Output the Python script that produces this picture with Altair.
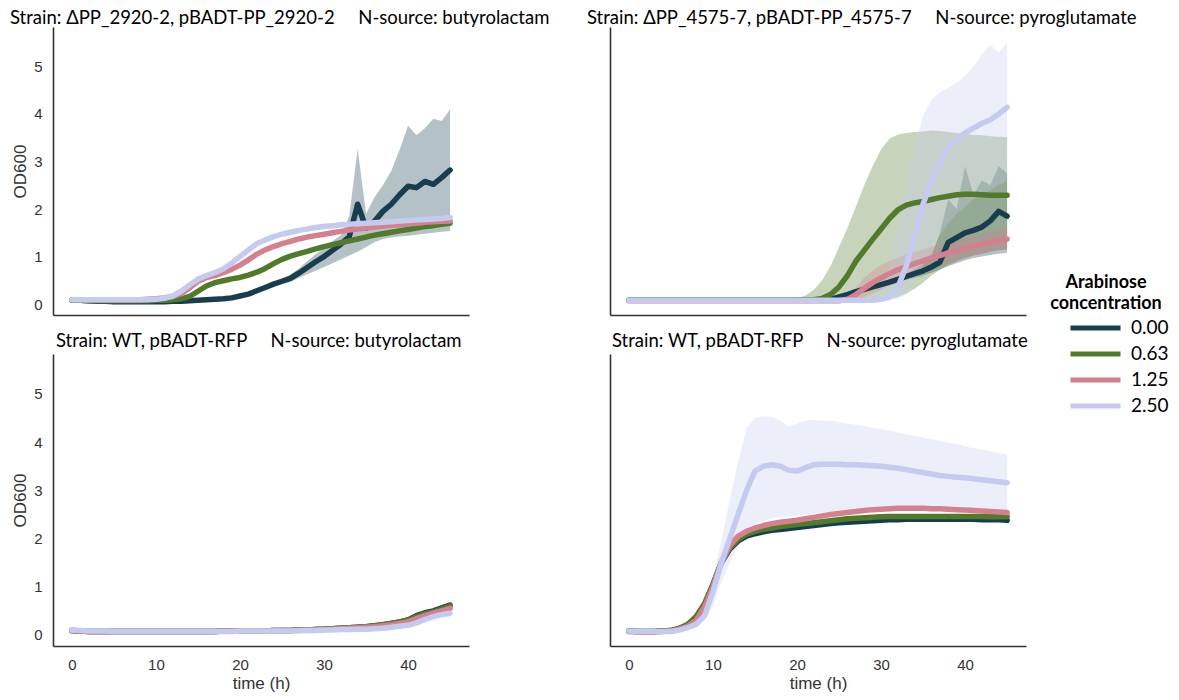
import altair as alt
import pandas as pd

# ---------------- data ----------------
TIME = [0, 1, 2, 3, 4, 5, 6, 7, 8, 9, 10, 11, 12, 13, 14, 15, 16, 17, 18, 19,
        20, 21, 22, 23, 24, 25, 26, 27, 28, 29, 30, 31, 32, 33, 34, 35, 36, 37, 38, 39,
        40, 41, 42, 43, 44, 45]
CONCS = ["0.00", "0.63", "1.25", "2.50"]
COLORS = ["#173d4f", "#517a2b", "#d4808f", "#c4caf0"]

TITLE_TL = ["Strain: \u0394PP_2920-2, pBADT-PP_2920-2", "N-source: butyrolactam"]
TITLE_TR = ["Strain: \u0394PP_4575-7, pBADT-PP_4575-7", "N-source: pyroglutamate"]
TITLE_BL = ["Strain: WT, pBADT-RFP", "N-source: butyrolactam"]
TITLE_BR = ["Strain: WT, pBADT-RFP", "N-source: pyroglutamate"]

Y_TICKS = [0, 1, 2, 3, 4, 5]
X_TICKS = [0, 10, 20, 30, 40]

# top-left: dPP_2920-2, butyrolactam
TL_000 = [0.09, 0.08, 0.07, 0.06, 0.06, 0.05, 0.05, 0.05, 0.05, 0.05,
          0.05, 0.05, 0.06, 0.06, 0.07, 0.08, 0.09, 0.10, 0.11, 0.13,
          0.17, 0.21, 0.28, 0.35, 0.42, 0.48, 0.54, 0.65, 0.77, 0.89,
          1.00, 1.13, 1.26, 1.42, 2.10, 1.60, 1.74, 1.95, 2.10, 2.30,
          2.48, 2.45, 2.58, 2.52, 2.66, 2.82]
TL_000_LO = [0.08, 0.07, 0.06, 0.05, 0.05, 0.05, 0.05, 0.05, 0.05, 0.05,
             0.05, 0.05, 0.05, 0.05, 0.06, 0.07, 0.08, 0.09, 0.10, 0.12,
             0.15, 0.19, 0.25, 0.31, 0.37, 0.42, 0.47, 0.55, 0.63, 0.70,
             0.78, 0.86, 0.94, 1.02, 1.10, 1.20, 1.30, 1.37, 1.40, 1.42,
             1.44, 1.46, 1.48, 1.50, 1.52, 1.54]
TL_000_HI = [0.10, 0.09, 0.08, 0.07, 0.07, 0.06, 0.06, 0.06, 0.06, 0.06,
             0.06, 0.06, 0.07, 0.07, 0.08, 0.09, 0.10, 0.11, 0.12, 0.14,
             0.19, 0.23, 0.31, 0.39, 0.47, 0.54, 0.62, 0.75, 0.90, 1.05,
             1.18, 1.32, 1.45, 1.85, 3.27, 1.90, 2.25, 2.50, 2.80, 3.25,
             3.75, 3.55, 3.70, 3.90, 3.85, 4.10]
TL_063 = [0.08, 0.08, 0.07, 0.07, 0.07, 0.07, 0.07, 0.07, 0.07, 0.07,
          0.08, 0.08, 0.09, 0.11, 0.16, 0.27, 0.38, 0.45, 0.49, 0.53,
          0.56, 0.61, 0.67, 0.75, 0.85, 0.94, 1.01, 1.06, 1.11, 1.16,
          1.21, 1.25, 1.29, 1.33, 1.37, 1.41, 1.45, 1.48, 1.51, 1.54,
          1.57, 1.60, 1.63, 1.65, 1.68, 1.70]
TL_125 = [0.09, 0.09, 0.09, 0.09, 0.09, 0.09, 0.09, 0.09, 0.09, 0.10,
          0.11, 0.13, 0.16, 0.22, 0.34, 0.48, 0.56, 0.60, 0.66, 0.73,
          0.82, 0.93, 1.05, 1.14, 1.21, 1.27, 1.32, 1.37, 1.41, 1.44,
          1.47, 1.50, 1.53, 1.56, 1.58, 1.60, 1.62, 1.64, 1.66, 1.67,
          1.69, 1.70, 1.72, 1.73, 1.74, 1.75]
TL_250 = [0.09, 0.09, 0.09, 0.09, 0.09, 0.09, 0.09, 0.09, 0.09, 0.09,
          0.10, 0.12, 0.17, 0.27, 0.40, 0.52, 0.60, 0.66, 0.74, 0.86,
          1.00, 1.14, 1.27, 1.35, 1.42, 1.47, 1.51, 1.55, 1.58, 1.61,
          1.63, 1.65, 1.67, 1.68, 1.69, 1.70, 1.71, 1.72, 1.73, 1.75,
          1.76, 1.77, 1.78, 1.79, 1.80, 1.82]

# top-right: dPP_4575-7, pyroglutamate
TR_000 = [0.08, 0.08, 0.08, 0.08, 0.08, 0.08, 0.08, 0.08, 0.08, 0.08,
          0.08, 0.08, 0.08, 0.08, 0.08, 0.08, 0.08, 0.08, 0.08, 0.08,
          0.08, 0.08, 0.08, 0.09, 0.10, 0.15, 0.20, 0.26, 0.31, 0.36,
          0.41, 0.46, 0.52, 0.58, 0.64, 0.70, 0.78, 0.88, 1.30, 1.40,
          1.50, 1.55, 1.62, 1.75, 1.95, 1.85]
TR_000_LO = [0.07, 0.07, 0.07, 0.07, 0.07, 0.07, 0.07, 0.07, 0.07, 0.07,
             0.07, 0.07, 0.07, 0.07, 0.07, 0.07, 0.07, 0.07, 0.07, 0.07,
             0.07, 0.07, 0.07, 0.08, 0.09, 0.13, 0.17, 0.22, 0.26, 0.31,
             0.36, 0.41, 0.46, 0.51, 0.55, 0.60, 0.66, 0.72, 0.80, 0.86,
             0.92, 0.97, 1.00, 1.03, 1.06, 1.08]
TR_000_HI = [0.09, 0.09, 0.09, 0.09, 0.09, 0.09, 0.09, 0.09, 0.09, 0.09,
             0.09, 0.09, 0.09, 0.09, 0.09, 0.09, 0.09, 0.09, 0.09, 0.09,
             0.09, 0.09, 0.09, 0.10, 0.11, 0.17, 0.23, 0.30, 0.36, 0.41,
             0.46, 0.52, 0.58, 0.65, 0.72, 0.85, 1.00, 1.50, 2.20, 2.00,
             2.90, 2.30, 2.60, 2.50, 2.90, 2.75]
TR_063 = [0.08, 0.08, 0.08, 0.08, 0.08, 0.08, 0.08, 0.08, 0.08, 0.08,
          0.08, 0.08, 0.08, 0.08, 0.08, 0.08, 0.08, 0.08, 0.08, 0.08,
          0.08, 0.08, 0.09, 0.12, 0.20, 0.36, 0.60, 0.90, 1.13, 1.36,
          1.58, 1.80, 1.98, 2.08, 2.13, 2.16, 2.20, 2.24, 2.27, 2.30,
          2.31, 2.31, 2.30, 2.29, 2.29, 2.29]
TR_063_LO = [0.07, 0.07, 0.07, 0.07, 0.07, 0.07, 0.07, 0.07, 0.07, 0.07,
             0.07, 0.07, 0.07, 0.07, 0.07, 0.07, 0.07, 0.07, 0.07, 0.07,
             0.07, 0.07, 0.07, 0.07, 0.07, 0.07, 0.07, 0.07, 0.07, 0.08,
             0.09, 0.11, 0.15, 0.22, 0.32, 0.45, 0.60, 0.72, 0.82, 0.90,
             0.97, 1.02, 1.06, 1.10, 1.13, 1.15]
TR_063_HI = [0.10, 0.10, 0.10, 0.10, 0.10, 0.10, 0.10, 0.10, 0.10, 0.10,
             0.10, 0.10, 0.10, 0.10, 0.10, 0.10, 0.10, 0.10, 0.10, 0.10,
             0.12, 0.18, 0.30, 0.50, 0.80, 1.20, 1.60, 2.05, 2.50, 2.90,
             3.25, 3.48, 3.57, 3.60, 3.62, 3.63, 3.65, 3.64, 3.62, 3.60,
             3.58, 3.56, 3.55, 3.53, 3.52, 3.51]
TR_125 = [0.07, 0.07, 0.07, 0.07, 0.07, 0.07, 0.07, 0.07, 0.07, 0.07,
          0.07, 0.07, 0.07, 0.07, 0.07, 0.07, 0.07, 0.07, 0.07, 0.07,
          0.07, 0.07, 0.07, 0.07, 0.07, 0.07, 0.10, 0.20, 0.33, 0.45,
          0.55, 0.64, 0.72, 0.79, 0.85, 0.91, 0.97, 1.02, 1.08, 1.13,
          1.18, 1.22, 1.26, 1.30, 1.34, 1.37]
TR_125_LO = [0.06, 0.06, 0.06, 0.06, 0.06, 0.06, 0.06, 0.06, 0.06, 0.06,
             0.06, 0.06, 0.06, 0.06, 0.06, 0.06, 0.06, 0.06, 0.06, 0.06,
             0.06, 0.06, 0.06, 0.06, 0.06, 0.06, 0.06, 0.06, 0.15, 0.22,
             0.30, 0.38, 0.45, 0.52, 0.60, 0.67, 0.74, 0.80, 0.86, 0.92,
             0.97, 1.02, 1.06, 1.10, 1.13, 1.16]
TR_125_HI = [0.08, 0.08, 0.08, 0.08, 0.08, 0.08, 0.08, 0.08, 0.08, 0.08,
             0.08, 0.08, 0.08, 0.08, 0.08, 0.08, 0.08, 0.08, 0.08, 0.08,
             0.08, 0.08, 0.08, 0.08, 0.08, 0.08, 0.15, 0.35, 0.55, 0.70,
             0.82, 0.90, 0.98, 1.05, 1.10, 1.15, 1.20, 1.25, 1.30, 1.35,
             1.40, 1.44, 1.48, 1.52, 1.56, 1.60]
TR_250 = [0.08, 0.08, 0.08, 0.08, 0.08, 0.08, 0.08, 0.08, 0.08, 0.08,
          0.08, 0.08, 0.08, 0.08, 0.08, 0.08, 0.08, 0.08, 0.08, 0.08,
          0.08, 0.08, 0.08, 0.08, 0.08, 0.08, 0.08, 0.08, 0.08, 0.08,
          0.10, 0.15, 0.35, 0.80, 1.45, 2.10, 2.60, 2.95, 3.30, 3.48,
          3.60, 3.70, 3.80, 3.88, 4.00, 4.14]
TR_250_LO = [0.07, 0.07, 0.07, 0.07, 0.07, 0.07, 0.07, 0.07, 0.07, 0.07,
             0.07, 0.07, 0.07, 0.07, 0.07, 0.07, 0.07, 0.07, 0.07, 0.07,
             0.07, 0.07, 0.07, 0.07, 0.07, 0.07, 0.07, 0.07, 0.07, 0.07,
             0.07, 0.07, 0.10, 0.20, 0.45, 0.80, 1.15, 1.45, 1.70, 1.90,
             2.05, 2.20, 2.30, 2.40, 2.50, 2.60]
TR_250_HI = [0.10, 0.10, 0.10, 0.10, 0.10, 0.10, 0.10, 0.10, 0.10, 0.10,
             0.10, 0.10, 0.10, 0.10, 0.10, 0.10, 0.10, 0.10, 0.10, 0.10,
             0.10, 0.10, 0.10, 0.10, 0.10, 0.10, 0.10, 0.10, 0.10, 0.15,
             0.30, 0.80, 1.60, 2.50, 3.30, 3.95, 4.30, 4.45, 4.55, 4.65,
             4.80, 5.00, 5.25, 5.45, 5.30, 5.50]

# bottom-left: WT, butyrolactam
BL_000 = [0.09, 0.08, 0.07, 0.07, 0.07, 0.07, 0.07, 0.07, 0.07, 0.07,
          0.07, 0.07, 0.07, 0.07, 0.07, 0.07, 0.07, 0.07, 0.08, 0.08,
          0.08, 0.08, 0.08, 0.08, 0.09, 0.09, 0.09, 0.10, 0.10, 0.11,
          0.12, 0.13, 0.14, 0.15, 0.16, 0.17, 0.19, 0.21, 0.24, 0.27,
          0.31, 0.40, 0.46, 0.50, 0.56, 0.62]
BL_063 = [0.09, 0.08, 0.07, 0.07, 0.07, 0.07, 0.07, 0.07, 0.07, 0.07,
          0.07, 0.07, 0.07, 0.07, 0.07, 0.07, 0.07, 0.07, 0.08, 0.08,
          0.08, 0.08, 0.08, 0.08, 0.09, 0.09, 0.09, 0.10, 0.10, 0.11,
          0.12, 0.13, 0.14, 0.15, 0.16, 0.17, 0.19, 0.21, 0.24, 0.27,
          0.31, 0.38, 0.44, 0.48, 0.54, 0.60]
BL_125 = [0.09, 0.08, 0.07, 0.07, 0.07, 0.07, 0.07, 0.07, 0.07, 0.07,
          0.07, 0.07, 0.07, 0.07, 0.07, 0.07, 0.07, 0.07, 0.08, 0.08,
          0.08, 0.08, 0.08, 0.08, 0.08, 0.09, 0.09, 0.09, 0.10, 0.10,
          0.11, 0.12, 0.13, 0.14, 0.15, 0.16, 0.17, 0.19, 0.21, 0.24,
          0.27, 0.34, 0.40, 0.45, 0.50, 0.55]
BL_250 = [0.10, 0.09, 0.08, 0.08, 0.08, 0.07, 0.07, 0.07, 0.07, 0.07,
          0.07, 0.07, 0.07, 0.07, 0.07, 0.07, 0.07, 0.07, 0.07, 0.07,
          0.08, 0.08, 0.08, 0.08, 0.08, 0.08, 0.08, 0.09, 0.09, 0.09,
          0.10, 0.10, 0.11, 0.11, 0.12, 0.12, 0.13, 0.14, 0.16, 0.18,
          0.20, 0.25, 0.32, 0.38, 0.42, 0.45]

# bottom-right: WT, pyroglutamate
BR_000 = [0.08, 0.07, 0.07, 0.07, 0.08, 0.09, 0.13, 0.20, 0.35, 0.62,
          1.04, 1.50, 1.78, 1.95, 2.05, 2.10, 2.14, 2.17, 2.19, 2.21,
          2.23, 2.25, 2.27, 2.29, 2.31, 2.33, 2.34, 2.35, 2.36, 2.37,
          2.38, 2.39, 2.39, 2.40, 2.40, 2.40, 2.40, 2.40, 2.40, 2.40,
          2.40, 2.40, 2.39, 2.39, 2.39, 2.38]
BR_063 = [0.08, 0.07, 0.07, 0.07, 0.08, 0.09, 0.14, 0.22, 0.38, 0.65,
          1.05, 1.50, 1.80, 1.98, 2.09, 2.15, 2.19, 2.22, 2.25, 2.27,
          2.29, 2.31, 2.33, 2.35, 2.37, 2.39, 2.41, 2.42, 2.43, 2.44,
          2.45, 2.46, 2.46, 2.46, 2.46, 2.46, 2.46, 2.46, 2.46, 2.46,
          2.46, 2.46, 2.46, 2.45, 2.45, 2.45]
BR_125 = [0.07, 0.06, 0.06, 0.06, 0.07, 0.08, 0.12, 0.18, 0.30, 0.58,
          1.00, 1.50, 1.85, 2.05, 2.15, 2.22, 2.27, 2.31, 2.34, 2.36,
          2.38, 2.41, 2.44, 2.47, 2.50, 2.52, 2.54, 2.56, 2.58, 2.60,
          2.61, 2.62, 2.63, 2.63, 2.63, 2.63, 2.62, 2.62, 2.61, 2.60,
          2.59, 2.58, 2.57, 2.56, 2.55, 2.54]
BR_250 = [0.08, 0.07, 0.07, 0.07, 0.07, 0.07, 0.10, 0.15, 0.22, 0.40,
          0.90, 1.50, 2.00, 2.50, 3.00, 3.40, 3.50, 3.53, 3.50, 3.42,
          3.40, 3.47, 3.53, 3.54, 3.54, 3.54, 3.53, 3.53, 3.52, 3.51,
          3.50, 3.48, 3.46, 3.43, 3.40, 3.37, 3.34, 3.31, 3.29, 3.27,
          3.26, 3.24, 3.22, 3.20, 3.18, 3.16]
BR_250_LO = [0.07, 0.06, 0.06, 0.06, 0.06, 0.06, 0.08, 0.12, 0.18, 0.30,
             0.60, 1.10, 1.50, 1.85, 2.15, 2.30, 2.37, 2.42, 2.45, 2.46,
             2.48, 2.50, 2.52, 2.54, 2.56, 2.58, 2.59, 2.60, 2.60, 2.61,
             2.61, 2.62, 2.62, 2.62, 2.62, 2.62, 2.62, 2.62, 2.61, 2.61,
             2.61, 2.60, 2.60, 2.59, 2.59, 2.58]
BR_250_HI = [0.09, 0.08, 0.08, 0.08, 0.08, 0.08, 0.12, 0.18, 0.26, 0.50,
             1.20, 1.95, 2.80, 3.60, 4.30, 4.50, 4.54, 4.53, 4.45, 4.33,
             4.38, 4.45, 4.46, 4.45, 4.44, 4.42, 4.39, 4.36, 4.33, 4.30,
             4.27, 4.24, 4.20, 4.17, 4.13, 4.10, 4.06, 4.03, 3.99, 3.96,
             3.92, 3.88, 3.85, 3.81, 3.78, 3.74]

LINES = {
    "tl": [TL_000, TL_063, TL_125, TL_250],
    "tr": [TR_000, TR_063, TR_125, TR_250],
    "bl": [BL_000, BL_063, BL_125, BL_250],
    "br": [BR_000, BR_063, BR_125, BR_250],
}
BANDS = [
    ("tl", "0.00", TL_000_LO, TL_000_HI),
    ("tr", "0.00", TR_000_LO, TR_000_HI),
    ("tr", "0.63", TR_063_LO, TR_063_HI),
    ("tr", "1.25", TR_125_LO, TR_125_HI),
    ("tr", "2.50", TR_250_LO, TR_250_HI),
    ("br", "2.50", BR_250_LO, BR_250_HI),
]

line_rows = []
for pid, series in LINES.items():
    for conc, vals in zip(CONCS, series):
        for t, v in zip(TIME, vals):
            line_rows.append({"panel": pid, "conc": conc, "t": t, "od": v})
lines_df = pd.DataFrame(line_rows)

band_rows = []
for pid, conc, lo, hi in BANDS:
    for t, a, b in zip(TIME, lo, hi):
        band_rows.append({"panel": pid, "conc": conc, "t": t, "lo": a, "hi": b})
bands_df = pd.DataFrame(band_rows)

# ---------------- chart ----------------
TICK_FONT = "Liberation Sans"
TITLE_FONT = "Lato"
GAP = "\u00a0" * 5

xscale = alt.Scale(domain=[-2.25, 47.25], nice=False, zero=False)
yscale = alt.Scale(domain=[-0.23, 5.83], nice=False, zero=False)
cscale = alt.Scale(domain=CONCS, range=COLORS)

LEGEND = alt.Legend(
    title=["Arabinose", "concentration"], orient="none",
    legendX=990, legendY=247, direction="vertical",
    titleFont=TITLE_FONT, titleFontSize=18, titleFontWeight="bold",
    titleColor="#000000", titleAlign="center", titleAnchor="middle",
    titleLineHeight=21, titlePadding=6,
    labelFont=TITLE_FONT, labelFontSize=19, labelColor="#000000",
    labelOffset=8, symbolType="stroke", symbolStrokeWidth=5,
    symbolSize=2500, symbolOffset=25, clipHeight=18, rowPadding=7)


def axis(values, show, title, orient_x):
    kw = dict(values=values, grid=False, ticks=False, domainColor="#333333",
              domainWidth=1.6, labelFont=TICK_FONT, labelFontSize=15,
              labelColor="#333333", titleFont=TICK_FONT, titleFontSize=17,
              titleFontWeight="normal", titleColor="#333333")
    if show:
        kw.update(labels=True, title=title, labelPadding=11,
                  titlePadding=3 if orient_x else 4)
    else:
        kw.update(labels=False, title=None)
    return alt.Axis(**kw)


def panel(pid, title_parts, dx, offset, show_x, show_y, height):
    xax = axis(X_TICKS, show_x, "time (h)", True)
    yax = axis(Y_TICKS, show_y, "OD600", False)
    ld = lines_df[lines_df.panel == pid]
    layers = []
    for conc, col in zip(CONCS, COLORS):
        bd = bands_df[(bands_df.panel == pid) & (bands_df.conc == conc)]
        if len(bd) == 0:
            continue
        layers.append(alt.Chart(bd).mark_area(opacity=0.32, color=col).encode(
            x=alt.X("t:Q", scale=xscale, axis=xax),
            y=alt.Y("lo:Q", scale=yscale, axis=yax),
            y2="hi:Q",
        ))
    layers.append(alt.Chart(ld).mark_line(strokeWidth=5.5, strokeCap="round",
                                          strokeJoin="round").encode(
        x=alt.X("t:Q", scale=xscale, axis=xax),
        y=alt.Y("od:Q", scale=yscale, axis=yax),
        color=alt.Color("conc:N", scale=cscale, legend=LEGEND),
    ))
    return alt.layer(*layers).properties(
        width=416, height=height,
        title=alt.TitleParams(
            text=title_parts[0] + GAP + title_parts[1], anchor="start",
            frame="group", dx=dx, offset=offset, baseline="alphabetic",
            font=TITLE_FONT, fontSize=18.5, fontWeight="normal", color="#000000"),
    )


tl = panel("tl", TITLE_TL, -43, -15, False, True, 288)
tr = panel("tr", TITLE_TR, -23, -15, False, False, 288)
bl = panel("bl", TITLE_BL, 3, -11, True, True, 292)
br = panel("br", TITLE_BR, 2, -11, True, False, 292)

chart = alt.concat(
    tl, tr, bl, br, columns=2, spacing={"row": 39, "column": 141},
    bounds="flush",
).resolve_scale(color="shared").resolve_legend(color="shared").properties(
    padding={"left": 10, "top": 8, "right": 5, "bottom": 5},
    background="white",
).configure_view(stroke=None)

chart.save("out.html", embed_options={"renderer": "svg", "actions": False})
